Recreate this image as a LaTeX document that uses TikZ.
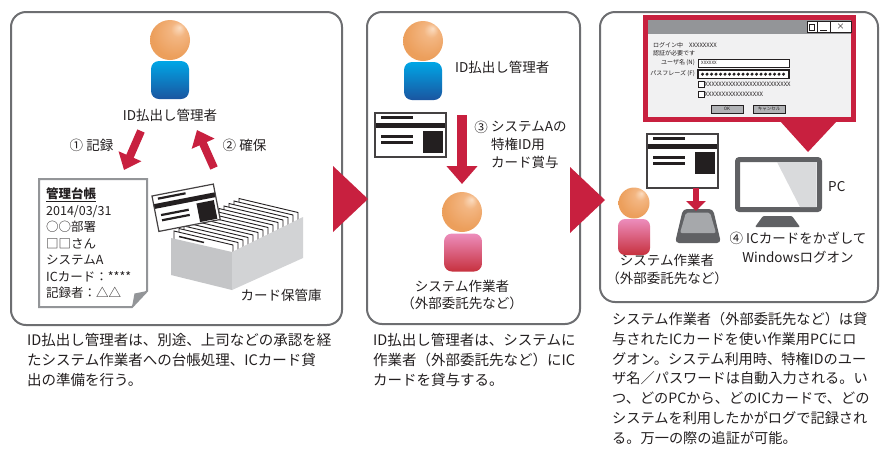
\documentclass[tikz,border=0pt]{standalone}
\usepackage{fontspec}
\setmainfont{Noto Sans CJK JP}
\usetikzlibrary{arrows.meta}

\definecolor{accent}{HTML}{C8203F}
\definecolor{frame}{HTML}{6D6E71}
\definecolor{ink}{HTML}{231F20}
\definecolor{headhi}{HTML}{FBDDC2}
\definecolor{headmid}{HTML}{F3B682}
\definecolor{headlo}{HTML}{EC9F5C}
\definecolor{adminhi}{HTML}{00A6E6}
\definecolor{adminlo}{HTML}{1A55A0}
\definecolor{workerhi}{HTML}{EC8DBC}
\definecolor{workerlo}{HTML}{C7313E}
\definecolor{boxfront}{HTML}{C4C5C7}
\definecolor{boxside}{HTML}{D2D3D5}
\definecolor{pcgray}{HTML}{606164}
\definecolor{screen}{HTML}{D9DADC}
\definecolor{readertop}{HTML}{A6A8AB}
\definecolor{winbody}{HTML}{F1F1F2}
\definecolor{titlebar}{HTML}{939598}
\definecolor{btngray}{HTML}{B1B3B6}
\definecolor{ledgerline}{HTML}{939598}

\pgfdeclareradialshading{headball}{\pgfpoint{12bp}{16bp}}{color(0bp)=(headhi); color(9bp)=(headmid); color(28bp)=(headlo); color(50bp)=(headlo)}

\begin{document}
\begin{tikzpicture}[x=1pt,y=-1pt,
  panel/.style={draw=frame,line width=2pt,fill=white,rounded corners=15pt,inner sep=0pt},
  head/.style={circle,inner sep=0pt,minimum size=40pt,shade,shading=headball},
  admin/.style={rounded corners=8pt,inner sep=0pt,minimum width=38pt,minimum height=38pt,top color=adminhi,bottom color=adminlo},
  worker/.style={rounded corners=8pt,inner sep=0pt,minimum width=38pt,minimum height=38pt,top color=workerhi,bottom color=workerlo},
  lbl/.style={text=ink,inner sep=0pt,font=\fontsize{13.5}{17}\selectfont},
  para/.style={text=ink,inner sep=0pt,anchor=north west,align=left,font=\fontsize{14.5}{20}\selectfont},
  bigarrow/.style={accent,line width=8pt,-{Triangle[width=24pt,length=15pt]}},
  wintext/.style={text=ink,inner sep=0pt,anchor=west,font=\fontsize{6}{7}\selectfont},
  pics/idcard/.style={code={
    \fill[white] (0,0) rectangle (71,#1);
    \fill[ink] (6,3) rectangle (38,5.5);
    \fill[ink] (0,9.5) rectangle (71,15);
    \fill[ink] (6,22) rectangle (38,24.5);
    \fill[ink] (6,28) rectangle (38,30.5);
    \fill[ink] (48,18) rectangle (68,39.5);
    \draw[ink!85,line width=1.2pt] (0,0) rectangle (71,#1);
  }}]
\useasboundingbox (0,0) rectangle (880,448);

% three panels
\node[panel,minimum width=331pt,minimum height=313pt] (p1) at (176.5,168.5) {};
\node[panel,minimum width=213pt,minimum height=312pt] (p2) at (473.5,168) {};
\node[panel,minimum width=278pt,minimum height=290pt] (p3) at (739,157) {};

\fill[accent] (333,166) -- (368,199) -- (333,232) -- cycle;
\fill[accent] (570,167) -- (605,200) -- (570,233) -- cycle;

%%% panel 1
\node[head] (adm1-h) at (170,40) {};
\node[admin] (adm1-b) at (170,80) {};
\node[lbl] (adm1-l) at (170,115) {ID払出し管理者};

% ledger sheet
\draw[ledgerline,line width=2pt,fill=white] (39,179) -- (147,179) -- (147,291) -- (132,307) -- (39,307) -- cycle;
\fill[ledgerline] (147,291) -- (132,307) -- (134.5,293.5) -- cycle;
\node[para,font=\fontsize{12.5}{16.5}\selectfont] (ledger) at (46,187.5)
  {\textbf{\underline{管理台帳}}\\2014/03/31\\○○部署\\□□さん\\システムA\\ICカード：****\\記録者：△△};

% card storage box
\foreach \i in {13,...,0}
  \draw[ink,line width=0.9pt,fill=white] ({174+5*\i},{231-2.5*\i}) -- ++(59,14) -- ++(0,14) -- ++(-59,-14) -- cycle;
\draw[ink,line width=1.5pt] (179,236.5) -- (204,242.5);
\fill[boxfront] (171,238) -- (232,252) -- (232,290) -- (171,275) -- cycle;
\fill[boxside] (232,252) -- (303,217) -- (303,258) -- (232,290) -- cycle;
\pic[rotate=11,scale=0.88] (lift) at (152,196) {idcard=41};
\node[lbl] (store-l) at (281,295) {カード保管庫};

\coordinate (rec-s) at (141,131);
\coordinate (rec-e) at (124,170);
\draw[bigarrow] (rec-s) -- (rec-e);
\node[lbl] (rec-l) at (91.5,145) {① 記録};
\coordinate (sec-s) at (214,168);
\coordinate (sec-e) at (197,130);
\draw[bigarrow] (sec-s) -- (sec-e);
\node[lbl] (sec-l) at (244.5,145) {② 確保};

%%% panel 2
\node[head] (adm2-h) at (423,41) {};
\node[admin] (adm2-b) at (423,81) {};
\node[lbl,anchor=west] (adm2-l) at (455,67) {ID払出し管理者};
\pic (card2) at (375,113) {idcard=44};
\coordinate (lend-s) at (462,115);
\coordinate (lend-e) at (462,184);
\draw[accent,line width=10pt,-{Triangle[width=30pt,length=18pt]}] (lend-s) -- (lend-e);
\node[lbl] (lend-n) at (481,127) {③};
\node[lbl,anchor=north west,align=left,font=\fontsize{13.5}{18}\selectfont] (lend-l) at (491,120.5)
  {システムAの\\特権ID用\\カード賞与};
\node[head] (wrk2-h) at (462,212) {};
\node[worker] (wrk2-b) at (463,252.5) {};
\node[lbl,align=center,font=\fontsize{13.5}{16.5}\selectfont] (wrk2-l) at (462,295)
  {システム作業者\\（外部委託先など）};

%%% panel 3
% login window
\fill[accent] (643,15) rectangle (856,122);
\fill[accent] (780,121) -- (837,121) -- (808,152) -- cycle;
\fill[winbody] (648,20) rectangle (851,117);
\fill[titlebar] (648,20) rectangle (851,34);
\draw[ink,fill=white,line width=0.8pt] (807,21.5) rectangle (817,32.5);
\draw[ink,fill=white,line width=0.8pt] (817,21.5) rectangle (830,32.5);
\draw[ink,fill=white,line width=0.8pt] (830,21.5) rectangle (851,32.5);
\draw[ink,line width=1pt] (809.5,24) rectangle (814.5,30);
\draw[ink,line width=0.8pt] (820,30) -- (827,30);
\node[wintext,anchor=center,font=\fontsize{8}{8}\selectfont] (win-x) at (840.5,27) {×};
\node[wintext] (win-t1) at (653,45) {ログイン中\quad XXXXXXXX};
\node[wintext] (win-t2) at (653,53) {認証が必要です};
\node[wintext,anchor=east] (win-u) at (695,63) {ユーザ名 (N)};
\node[wintext,anchor=east] (win-p) at (695,74) {パスフレーズ (F)};
\draw[ink,fill=white,line width=0.6pt] (698,59) rectangle (789,67.5);
\node[wintext,font=\fontsize{4.5}{5}\selectfont] (win-uv) at (701,63.2) {XXXXXX};
\draw[ink,fill=white,line width=1.1pt] (698,70) rectangle (789,78.5);
\foreach \k in {0,...,18}
  \fill[ink] ({702.5+4.5*\k},74.2) circle (1.7);
\draw[ink,fill=white,line width=0.7pt] (698,81) rectangle (704,87);
\node[wintext] (win-c1) at (704.5,84) {XXXXXXXXXXXXXXXXXXXXXXXXX};
\draw[ink,fill=white,line width=0.7pt] (698,91) rectangle (704,97);
\node[wintext] (win-c2) at (704.5,94) {XXXXXXXXXXXXXXXXX};
\draw[ink,fill=btngray,line width=0.8pt] (711,105) rectangle (743,113);
\node[wintext,anchor=center,font=\fontsize{4.5}{5}\selectfont] (win-ok) at (727,109) {OK};
\draw[ink,fill=btngray,line width=0.8pt] (753,105) rectangle (785,113);
\node[wintext,anchor=center,font=\fontsize{4.5}{5}\selectfont] (win-cn) at (769,109) {キャンセル};

% PC
\node[draw=pcgray,line width=5pt,fill=white,rounded corners=2pt,inner sep=0pt,minimum width=82pt,minimum height=50pt] (pc) at (778.5,184.5) {};
\fill[screen] (777,162) -- (816.5,162) -- (816.5,207) -- (800,207) -- cycle;
\fill[pcgray,rounded corners=1pt] (763,216) -- (792,216) -- (800,227) -- (755,227) -- cycle;
\node[lbl,anchor=west] (pc-l) at (828,187) {PC};

% card reader
\fill[pcgray,rounded corners=4pt] (683,209) -- (713,209) -- (721,243) -- (675,243) -- cycle;
\fill[readertop,rounded corners=2pt] (686,212.5) -- (710,212.5) -- (716,233) -- (680,233) -- cycle;
\pic (card3) at (647,134) {idcard=54};
\coordinate (tap-s) at (696,188);
\coordinate (tap-e) at (696,211);
\draw[accent,line width=6pt,-{Triangle[width=19pt,length=10pt]}] (tap-s) -- (tap-e);

\node[head,minimum size=31pt] (wrk3-h) at (634,203) {};
\node[worker,minimum width=32pt,minimum height=36pt,rounded corners=7pt] (wrk3-b) at (634,237) {};
\node[lbl,align=center,font=\fontsize{13.5}{18}\selectfont] (wrk3-l) at (667,269)
  {システム作業者\\（外部委託先など）};
\node[lbl,align=center,font=\fontsize{13.5}{19}\selectfont] (logon-l) at (798,247.5)
  {④ ICカードをかざして\\Windowsログオン};

%%% captions
\node[para] (cap1) at (27,333.5)
  {ID払出し管理者は、別途、上司などの承認を経\\たシステム作業者への台帳処理、ICカード貸\\出の準備を行う。};
\node[para] (cap2) at (373,333.5)
  {ID払出し管理者は、システムに\\作業者（外部委託先など）にIC\\カードを貸与する。};
\node[para,font=\fontsize{14.2}{19.7}\selectfont] (cap3) at (612,312.5)
  {システム作業者（外部委託先など）は貸\\与されたICカードを使い作業用PCにロ\\グオン。システム利用時、特権IDのユー\\ザ名／パスワードは自動入力される。い\\つ、どのPCから、どのICカードで、どの\\システムを利用したかがログで記録され\\る。万一の際の追証が可能。};

\end{tikzpicture}
\end{document}
